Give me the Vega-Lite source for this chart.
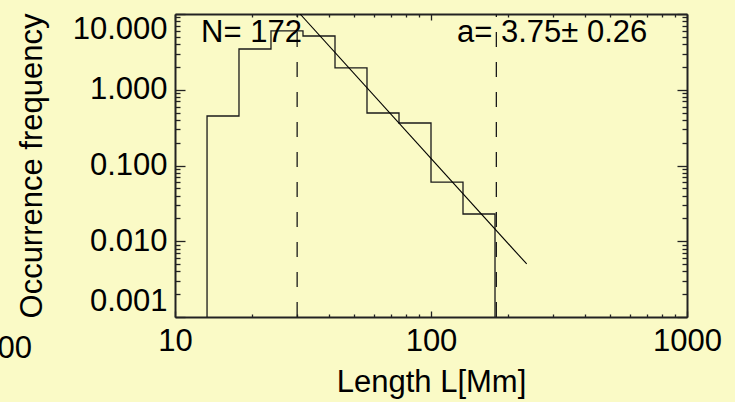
{
  "$schema": "https://vega.github.io/schema/vega-lite/v6.json",
  "width": 512,
  "height": 303,
  "autosize": {"type": "none"},
  "padding": {"left": 175, "top": 14, "right": 48, "bottom": 85},
  "background": "#fafac6",
  "config": {
    "view": {"stroke": null, "fill": "#fafac6"},
    "font": "Liberation Sans",
    "axis": {
      "domainColor": "#222222",
      "domainWidth": 2,
      "tickColor": "#222222",
      "tickWidth": 1.3,
      "grid": false,
      "labelFont": "Liberation Sans",
      "labelFontSize": 31,
      "labelColor": "#000000",
      "titleFont": "Liberation Sans",
      "titleFontSize": 31,
      "titleFontWeight": "normal",
      "titleColor": "#000000",
      "labelOverlap": false
    }
  },
  "datasets": {
    "hist": [
      {"i": 0, "L": 13.34, "f": 0.001},
      {"i": 1, "L": 13.34, "f": 0.45},
      {"i": 2, "L": 17.78, "f": 3.45},
      {"i": 3, "L": 23.71, "f": 5.97},
      {"i": 4, "L": 31.62, "f": 5.12},
      {"i": 5, "L": 42.17, "f": 1.94},
      {"i": 6, "L": 56.23, "f": 0.493},
      {"i": 7, "L": 74.99, "f": 0.364},
      {"i": 8, "L": 100, "f": 0.0605},
      {"i": 9, "L": 133.35, "f": 0.0229},
      {"i": 10, "L": 177.83, "f": 0.001}
    ],
    "fit": [
      {"L": 30.8, "f": 10},
      {"L": 236.5, "f": 0.00501}
    ],
    "cuts": [
      {"L": 30, "lo": 0.001, "hi": 10},
      {"L": 180, "lo": 0.001, "hi": 10}
    ],
    "notes": [
      {"L": 12.64, "f": 5.61, "t": "N= 172"},
      {"L": 126.4, "f": 5.61, "t": "a= 3.75± 0.26"}
    ],
    "edge": [
      {"L": 2.76, "f": 0.00038, "t": "1000"}
    ]
  },
  "layer": [
    {
      "data": {"name": "hist"},
      "mark": {"type": "line", "interpolate": "step-after", "color": "#1a1a1a", "strokeWidth": 1.3, "clip": true},
      "encoding": {
        "x": {
          "field": "L", "type": "quantitative",
          "scale": {"type": "log", "domain": [10, 1000], "nice": false},
          "axis": {
            "orient": "bottom",
            "values": [10, 20, 30, 40, 50, 60, 70, 80, 90, 100, 200, 300, 400, 500, 600, 700, 800, 900, 1000],
            "format": ".0f",
            "labelExpr": "(datum.value == 10 || datum.value == 100 || datum.value == 1000) ? datum.label : ''",
            "tickSize": {"condition": {"test": "datum.value == 10 || datum.value == 100 || datum.value == 1000", "value": -6}, "value": -3},
            "labelPadding": 15,
            "labelFlush": false,
            "title": "Length L[Mm]",
            "titlePadding": 8
          }
        },
        "y": {
          "field": "f", "type": "quantitative",
          "scale": {"type": "log", "domain": [0.001, 10], "nice": false},
          "axis": {
            "orient": "left",
            "values": [0.001, 0.002, 0.003, 0.004, 0.005, 0.006, 0.007, 0.008, 0.009, 0.01, 0.02, 0.03, 0.04, 0.05, 0.06, 0.07, 0.08, 0.09, 0.1, 0.2, 0.3, 0.4, 0.5, 0.6, 0.7, 0.8, 0.9, 1, 2, 3, 4, 5, 6, 7, 8, 9, 10],
            "format": ".3f",
            "labelExpr": "(datum.value == 0.001 || datum.value == 0.01 || datum.value == 0.1 || datum.value == 1 || datum.value == 10) ? datum.label : ''",
            "tickSize": {"condition": {"test": "datum.value == 0.001 || datum.value == 0.01 || datum.value == 0.1 || datum.value == 1 || datum.value == 10", "value": -10}, "value": -5},
            "labelPadding": 18,
            "labelFlush": true,
            "title": "Occurrence frequency",
            "titlePadding": 24
          }
        },
        "order": {"field": "i", "type": "quantitative"}
      }
    },
    {
      "data": {"name": "fit"},
      "mark": {"type": "line", "color": "#000000", "strokeWidth": 1.1, "clip": true},
      "encoding": {
        "x": {
          "field": "L", "type": "quantitative",
          "axis": {
            "orient": "top",
            "values": [10, 20, 30, 40, 50, 60, 70, 80, 90, 100, 200, 300, 400, 500, 600, 700, 800, 900, 1000],
            "labels": false,
            "tickSize": {"condition": {"test": "datum.value == 10 || datum.value == 100 || datum.value == 1000", "value": -6}, "value": -3},
            "title": null
          }
        },
        "y": {
          "field": "f", "type": "quantitative",
          "axis": {
            "orient": "right",
            "values": [0.001, 0.002, 0.003, 0.004, 0.005, 0.006, 0.007, 0.008, 0.009, 0.01, 0.02, 0.03, 0.04, 0.05, 0.06, 0.07, 0.08, 0.09, 0.1, 0.2, 0.3, 0.4, 0.5, 0.6, 0.7, 0.8, 0.9, 1, 2, 3, 4, 5, 6, 7, 8, 9, 10],
            "labels": false,
            "tickSize": {"condition": {"test": "datum.value == 0.001 || datum.value == 0.01 || datum.value == 0.1 || datum.value == 1 || datum.value == 10", "value": -10}, "value": -5},
            "title": null
          }
        }
      }
    },
    {
      "data": {"name": "cuts"},
      "mark": {"type": "rule", "color": "#1a1a1a", "strokeWidth": 1.3, "strokeDash": [15, 15]},
      "encoding": {
        "x": {"field": "L", "type": "quantitative", "axis": null},
        "y": {"field": "lo", "type": "quantitative", "axis": null},
        "y2": {"field": "hi"}
      }
    },
    {
      "data": {"name": "notes"},
      "mark": {"type": "text", "align": "left", "baseline": "middle", "fontSize": 31, "font": "Liberation Sans", "color": "#000000"},
      "encoding": {
        "x": {"field": "L", "type": "quantitative", "axis": null},
        "y": {"field": "f", "type": "quantitative", "axis": null},
        "text": {"field": "t"}
      }
    },
    {
      "data": {"name": "edge"},
      "mark": {"type": "text", "align": "right", "baseline": "middle", "fontSize": 31, "font": "Liberation Sans", "color": "#000000", "clip": false},
      "encoding": {
        "x": {"field": "L", "type": "quantitative", "axis": null},
        "y": {"field": "f", "type": "quantitative", "axis": null},
        "text": {"field": "t"}
      }
    }
  ],
  "resolve": {"axis": {"x": "independent", "y": "independent"}}
}
